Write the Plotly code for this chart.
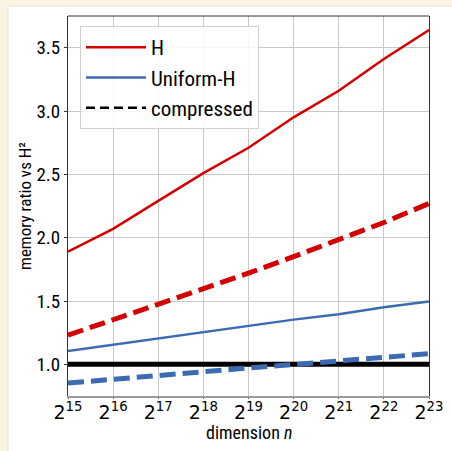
import plotly.graph_objects as go

# dimension exponents: n = 2**k
exponents = [15, 16, 17, 18, 19, 20, 21, 22, 23]
h_full = [1.89, 2.07, 2.29, 2.51, 2.71, 2.95, 3.16, 3.41, 3.64]
h_compressed = [1.23, 1.35, 1.47, 1.59, 1.72, 1.85, 1.98, 2.12, 2.27]
uniform_full = [1.105, 1.155, 1.203, 1.253, 1.303, 1.353, 1.395, 1.45, 1.497]
uniform_compressed = [0.852, 0.884, 0.91, 0.942, 0.971, 0.998, 1.024, 1.053, 1.084]
baseline = [1.0, 1.0]
y_ticks = [1.0, 1.5, 2.0, 2.5, 3.0, 3.5]

n_vals = [2 ** k for k in exponents]
tick_text = [f"2<sup>{k}</sup>" for k in exponents]

RED = "#d40000"
BLUE = "#3b6bb0"
FONT = "Roboto Condensed, Liberation Sans Narrow, Roboto, sans-serif"

fig = go.Figure()

fig.add_trace(go.Scatter(x=[n_vals[0], n_vals[-1]], y=baseline, mode="lines",
                         line=dict(color="black", width=5), showlegend=False,
                         hoverinfo="skip"))
fig.add_trace(go.Scatter(x=n_vals, y=h_full, mode="lines", name="H",
                         line=dict(color=RED, width=2.5)))
fig.add_trace(go.Scatter(x=n_vals, y=uniform_full, mode="lines", name="Uniform-H",
                         line=dict(color=BLUE, width=2.5)))
fig.add_trace(go.Scatter(x=n_vals, y=h_compressed, mode="lines", showlegend=False,
                         line=dict(color=RED, width=5, dash="16px,7px")))
fig.add_trace(go.Scatter(x=n_vals, y=uniform_compressed, mode="lines", showlegend=False,
                         line=dict(color=BLUE, width=5, dash="16px,7px")))
fig.add_trace(go.Scatter(x=[None], y=[None], mode="lines", name="compressed",
                         line=dict(color="black", width=2.5, dash="9px,5px")))

W, H = 452, 451
ml, mr, mt, mb = 68, 23, 16, 55
pw, ph = W - ml - mr, H - mt - mb


def px_to_paper_x(px):
    return (px - ml) / pw


def px_to_paper_y(py):
    return (H - mb - py) / ph


# white card on a cream page
fig.add_shape(type="rect", xref="paper", yref="paper", layer="below",
              x0=px_to_paper_x(8), x1=px_to_paper_x(460),
              y0=px_to_paper_y(460), y1=px_to_paper_y(6),
              fillcolor="white", line=dict(color="#e6dfd2", width=1))

# dark top frame edge (bottom edge is the lighter x-axis line)
fig.add_shape(type="line", xref="paper", yref="paper", x0=0, x1=1, y0=1, y1=1,
              line=dict(color="#333333", width=1))

# x-axis title placed just under the tick labels
fig.add_annotation(text="dimension <i>n</i>", xref="paper", yref="paper",
                   x=0.5, y=px_to_paper_y(432), xanchor="center", yanchor="middle",
                   showarrow=False, font=dict(family=FONT, size=18, color="black"))

fig.update_layout(
    width=W, height=H,
    margin=dict(l=ml, r=mr, t=mt, b=mb),
    paper_bgcolor="#fcf4e3",
    plot_bgcolor="white",
    font=dict(family=FONT, color="black", size=15),
    legend=dict(x=px_to_paper_x(80), y=px_to_paper_y(26), xanchor="left", yanchor="top",
                bgcolor="rgba(255,255,255,0.85)", bordercolor="#d0d0d0", borderwidth=1,
                font=dict(family=FONT, size=21), itemwidth=60, traceorder="normal"),
    xaxis=dict(type="log", range=[15 * 0.30103, 23 * 0.30103], automargin=False,
               tickvals=n_vals, ticktext=tick_text,
               tickfont=dict(family="DejaVu Sans", size=19),
               ticklabelstandoff=-3,
               showgrid=True, gridcolor="#c8c8c8", gridwidth=1,
               showline=True, linecolor="#9a9a9a", linewidth=2, mirror=False,
               ticks="outside", ticklen=1, tickcolor="#555555"),
    yaxis=dict(range=[0.75, 3.75], tickvals=y_ticks, automargin=False,
               ticktext=[f"{v:.1f}" for v in y_ticks],
               tickfont=dict(size=19),
               showgrid=True, gridcolor="#c8c8c8", gridwidth=1,
               showline=True, linecolor="#333333", linewidth=1, mirror=True,
               ticks="outside", ticklen=3, tickcolor="#333333", zeroline=False,
               title=dict(text="memory ratio vs H²", font=dict(size=17), standoff=0)),
)

fig.write_html("out.html")
